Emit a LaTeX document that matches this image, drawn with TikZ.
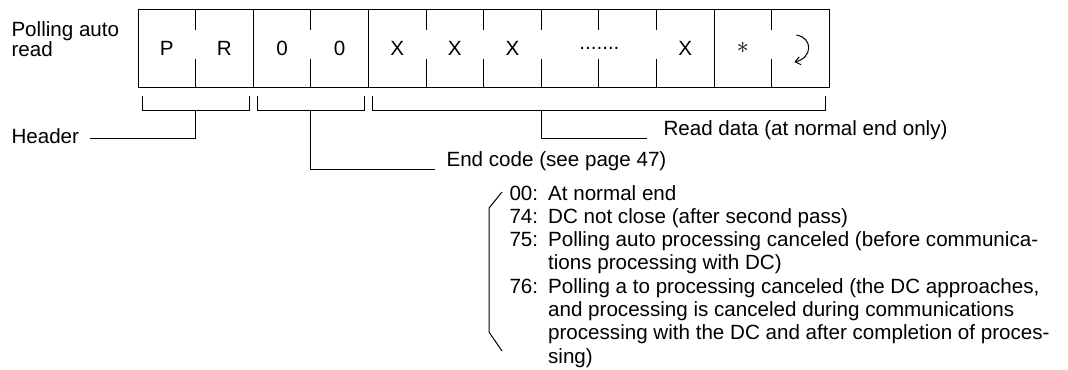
\documentclass[tikz,border=0pt]{standalone}
\usepackage{fontspec}
\setmainfont{Liberation Sans}
\usetikzlibrary{arrows.meta}

\begin{document}
\begin{tikzpicture}[
    x=0.5pt, y=-0.5pt,
    line width=0.5pt,
    every node/.style={font=\fontsize{10.3}{11.65}\selectfont, inner sep=0pt},
    lbl/.style={anchor=base west},
    cell/.style={minimum width=28.8pt, minimum height=39pt} % one character of the frame
]
\useasboundingbox (0,0) rectangle (1068,369);

\draw (138,10) rectangle (829.2,88);
\foreach \k in {2,4,10}
    \draw (138+57.6*\k,10) -- (138+57.6*\k,88);
\foreach \k in {1,3,5,6,7,8,9,11} {
    \draw (138+57.6*\k,10) -- (138+57.6*\k,30);
    \draw (138+57.6*\k,59) -- (138+57.6*\k,88);
}

\foreach \t [count=\i] in {P,R,0,0,X,X,X}
    \node[cell] (c\i) at (109.2+57.6*\i,48) {\t};
\node (dots) at (599.4,48) {.......};
\node[cell] (c10) at (685.2,48) {X};
\node[cell, font=\fontsize{13}{14}\selectfont] (c11) at (742.8,48) {$\ast$};
\node[cell] (c12) at (800.4,48) {};
\draw[-{Straight Barb[length=2.5pt,width=4pt]}] ([shift={(-4,-13)}]c12.center)
    .. controls ([shift={(13,-10)}]c12.center) and ([shift={(12,10)}]c12.center) .. ([shift={(-6,14)}]c12.center);

\node[lbl] (poll) at (11,37) {\begin{tabular}[t]{@{}l@{}}Polling auto\\[-1.8pt]read\end{tabular}};

\draw (142,96) |- (249.2,110) -- (249.2,96);
\draw (257.2,96) |- (364.4,110) -- (364.4,96);
\draw (372.4,96) |- (825.2,110) -- (825.2,96);
\coordinate (hb) at (195.6,110);
\coordinate (eb) at (310.8,110);
\coordinate (rb) at (541.2,110);

\node[lbl] (hdr) at (11,143) {Header};
\node[lbl] (rd) at (663,135) {Read data (at normal end only)};
\node[lbl] (ec) at (446,166) {End code (see page 47)};
\draw (hb) |- ([xshift=5pt,yshift=2.5pt]hdr.base east);
\draw (rb) |- ([xshift=-8pt,yshift=-1.5pt]rd.base west);
\draw (eb) |- ([xshift=-5.5pt,yshift=-1.5pt]ec.base west);

\node[lbl] (codes) at (509,200) {\begin{tabular}[t]{@{}l@{\hspace{5pt}}l@{}}
    00: & At normal end\\
    74: & DC not close (after second pass)\\
    75: & Polling auto processing canceled (before communica-\\
        & tions processing with DC)\\
    76: & Polling a to processing canceled (the DC approaches,\\
        & and processing is canceled during communications\\
        & processing with the DC and after completion of proces-\\
        & sing)
\end{tabular}};
\draw ([shift={(-7,-8)}]codes.base west) -- ++(-13,16) -- ++(0,124) -- ++(13,19);

\end{tikzpicture}
\end{document}
